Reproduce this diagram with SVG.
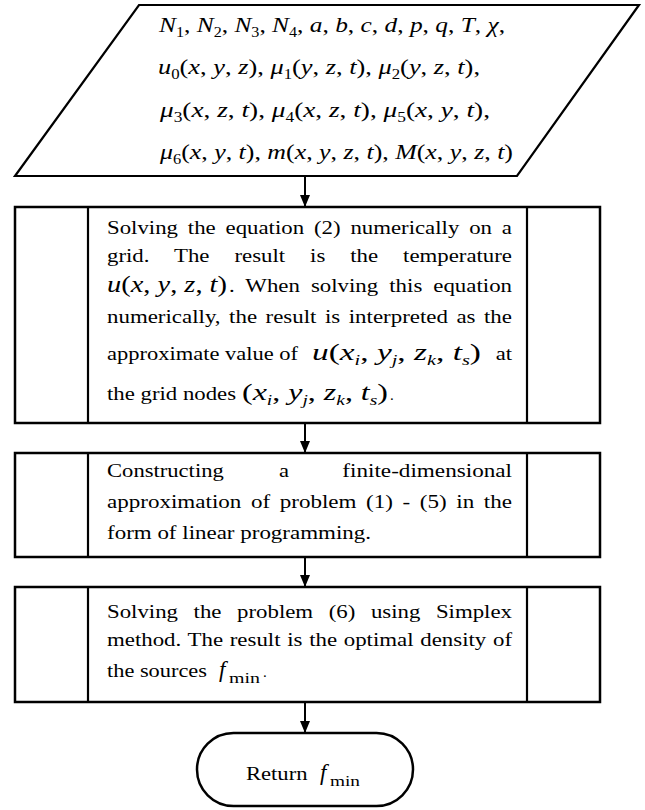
<svg xmlns="http://www.w3.org/2000/svg" width="645" height="810" viewBox="0 0 645 810">
<style>
.sh{fill:#fff;stroke:#000;stroke-width:2.5}
.ln{fill:none;stroke:#000;stroke-width:2.2}
.c{fill:none;stroke:#000;stroke-width:2}
text{font-family:"Liberation Serif","Times New Roman",serif;fill:#000}
.b{font-size:18.5px}
.m{font-size:23px}
.p{font-size:22px}
.i{font-style:italic}
.s{font-size:14px}
.s2{font-size:15px}
</style>
<defs>
<marker id="ah" markerUnits="userSpaceOnUse" markerWidth="12" markerHeight="10" refX="12" refY="5" orient="auto">
<path d="M0,0 L12,5 L0,10 z" fill="#000"/>
</marker>
</defs>

<g id="connectors">
<line class="c" x1="305" y1="176" x2="305" y2="207" marker-end="url(#ah)"/>
<line class="c" x1="305" y1="423" x2="305" y2="453" marker-end="url(#ah)"/>
<line class="c" x1="305" y1="557" x2="305" y2="587" marker-end="url(#ah)"/>
<line class="c" x1="305" y1="702" x2="305" y2="733" marker-end="url(#ah)"/>
</g>

<g id="node-input">
<polygon class="sh" points="139,5 639,5 517,176 15,176" style="stroke-width:2.2"/>
<text class="p" x="159" y="32" textLength="346" lengthAdjust="spacingAndGlyphs"><tspan class="i">N</tspan><tspan class="s" dy="5">1</tspan><tspan dy="-5">, </tspan><tspan class="i">N</tspan><tspan class="s" dy="5">2</tspan><tspan dy="-5">, </tspan><tspan class="i">N</tspan><tspan class="s" dy="5">3</tspan><tspan dy="-5">, </tspan><tspan class="i">N</tspan><tspan class="s" dy="5">4</tspan><tspan dy="-5">, </tspan><tspan class="i">a</tspan>, <tspan class="i">b</tspan>, <tspan class="i">c</tspan>, <tspan class="i">d</tspan>, <tspan class="i">p</tspan>, <tspan class="i">q</tspan>, <tspan class="i">T</tspan>, <tspan class="i">χ</tspan>,</text>
<text class="p" x="158" y="74" textLength="322" lengthAdjust="spacingAndGlyphs"><tspan class="i">u</tspan><tspan class="s" dy="5">0</tspan><tspan dy="-5">(</tspan><tspan class="i">x</tspan>, <tspan class="i">y</tspan>, <tspan class="i">z</tspan>), <tspan class="i">μ</tspan><tspan class="s" dy="5">1</tspan><tspan dy="-5">(</tspan><tspan class="i">y</tspan>, <tspan class="i">z</tspan>, <tspan class="i">t</tspan>), <tspan class="i">μ</tspan><tspan class="s" dy="5">2</tspan><tspan dy="-5">(</tspan><tspan class="i">y</tspan>, <tspan class="i">z</tspan>, <tspan class="i">t</tspan>),</text>
<text class="p" x="160" y="117" textLength="330" lengthAdjust="spacingAndGlyphs"><tspan class="i">μ</tspan><tspan class="s" dy="5">3</tspan><tspan dy="-5">(</tspan><tspan class="i">x</tspan>, <tspan class="i">z</tspan>, <tspan class="i">t</tspan>), <tspan class="i">μ</tspan><tspan class="s" dy="5">4</tspan><tspan dy="-5">(</tspan><tspan class="i">x</tspan>, <tspan class="i">z</tspan>, <tspan class="i">t</tspan>), <tspan class="i">μ</tspan><tspan class="s" dy="5">5</tspan><tspan dy="-5">(</tspan><tspan class="i">x</tspan>, <tspan class="i">y</tspan>, <tspan class="i">t</tspan>),</text>
<text class="p" x="160" y="159" textLength="353" lengthAdjust="spacingAndGlyphs"><tspan class="i">μ</tspan><tspan class="s" dy="5">6</tspan><tspan dy="-5">(</tspan><tspan class="i">x</tspan>, <tspan class="i">y</tspan>, <tspan class="i">t</tspan>), <tspan class="i">m</tspan>(<tspan class="i">x</tspan>, <tspan class="i">y</tspan>, <tspan class="i">z</tspan>, <tspan class="i">t</tspan>), <tspan class="i">M</tspan>(<tspan class="i">x</tspan>, <tspan class="i">y</tspan>, <tspan class="i">z</tspan>, <tspan class="i">t</tspan>)</text>
</g>

<g id="node-solve">
<rect class="sh" x="15" y="207" width="585" height="216"/>
<line class="ln" x1="88" y1="207" x2="88" y2="423"/>
<line class="ln" x1="527" y1="207" x2="527" y2="423"/>
<text class="b" x="107" y="234" word-spacing="3.4" textLength="405" lengthAdjust="spacingAndGlyphs">Solving the equation (2) numerically on a</text>
<text class="b" x="107" y="262" word-spacing="15.6" textLength="405" lengthAdjust="spacingAndGlyphs">grid. The result is the temperature</text>
<text class="m" x="107" y="292" textLength="120" lengthAdjust="spacingAndGlyphs"><tspan class="i">u</tspan>(<tspan class="i">x</tspan>, <tspan class="i">y</tspan>, <tspan class="i">z</tspan>, <tspan class="i">t</tspan>)</text>
<text class="b" x="229" y="292" word-spacing="4.3" textLength="283" lengthAdjust="spacingAndGlyphs">. When solving this equation</text>
<text class="b" x="107" y="323" word-spacing="2.25" textLength="405" lengthAdjust="spacingAndGlyphs">numerically, the result is interpreted as the</text>
<text class="b" x="107" y="360" textLength="191" lengthAdjust="spacingAndGlyphs">approximate value of</text>
<text class="m" x="312" y="360" textLength="169" lengthAdjust="spacingAndGlyphs"><tspan class="i">u</tspan>(<tspan class="i">x</tspan><tspan class="s i" dy="5">i</tspan><tspan dy="-5">, </tspan><tspan class="i">y</tspan><tspan class="s i" dy="5">j</tspan><tspan dy="-5">, </tspan><tspan class="i">z</tspan><tspan class="s i" dy="5">k</tspan><tspan dy="-5">, </tspan><tspan class="i">t</tspan><tspan class="s i" dy="5">s</tspan><tspan dy="-5">)</tspan></text>
<text class="b" x="495.7" y="360" textLength="16.3" lengthAdjust="spacingAndGlyphs">at</text>
<text class="b" x="107" y="400" textLength="129" lengthAdjust="spacingAndGlyphs">the grid nodes</text>
<text class="m" x="242" y="400" textLength="146" lengthAdjust="spacingAndGlyphs">(<tspan class="i">x</tspan><tspan class="s i" dy="5">i</tspan><tspan dy="-5">, </tspan><tspan class="i">y</tspan><tspan class="s i" dy="5">j</tspan><tspan dy="-5">, </tspan><tspan class="i">z</tspan><tspan class="s i" dy="5">k</tspan><tspan dy="-5">, </tspan><tspan class="i">t</tspan><tspan class="s i" dy="5">s</tspan><tspan dy="-5">)</tspan></text>
<text x="390" y="400" font-size="15">.</text>
</g>

<g id="node-construct">
<rect class="sh" x="15" y="453" width="585" height="104"/>
<line class="ln" x1="88" y1="453" x2="88" y2="557"/>
<line class="ln" x1="527" y1="453" x2="527" y2="557"/>
<text class="b" x="107" y="477" textLength="116.8" lengthAdjust="spacingAndGlyphs">Constructing</text>
<text class="b" x="279" y="477" textLength="10" lengthAdjust="spacingAndGlyphs">a</text>
<text class="b" x="342.3" y="477" textLength="169.7" lengthAdjust="spacingAndGlyphs">finite-dimensional</text>
<text class="b" x="107" y="508" word-spacing="3.1" textLength="405" lengthAdjust="spacingAndGlyphs">approximation of problem (1) - (5) in the</text>
<text class="b" x="107" y="539" textLength="264" lengthAdjust="spacingAndGlyphs">form of linear programming.</text>
</g>

<g id="node-simplex">
<rect class="sh" x="15" y="587" width="585" height="115"/>
<line class="ln" x1="88" y1="587" x2="88" y2="702"/>
<line class="ln" x1="527" y1="587" x2="527" y2="702"/>
<text class="b" x="107" y="618" word-spacing="8" textLength="405" lengthAdjust="spacingAndGlyphs">Solving the problem (6) using Simplex</text>
<text class="b" x="107" y="646" word-spacing="0.8" textLength="405" lengthAdjust="spacingAndGlyphs">method. The result is the optimal density of</text>
<text class="b" x="107" y="677" textLength="100" lengthAdjust="spacingAndGlyphs">the sources</text>
<text class="m i" x="219" y="677">f</text>
<text class="s2" x="229" y="683" textLength="31" lengthAdjust="spacingAndGlyphs">min</text>
<text x="263" y="677" font-size="15">.</text>
</g>

<g id="node-return">
<rect class="sh" x="197" y="733" width="216" height="73" rx="36.5"/>
<text class="b" x="246" y="780" textLength="61.5" lengthAdjust="spacingAndGlyphs">Return</text>
<text class="m i" x="320" y="780">f</text>
<text class="s2" x="330" y="786" textLength="30" lengthAdjust="spacingAndGlyphs">min</text>
</g>
</svg>
